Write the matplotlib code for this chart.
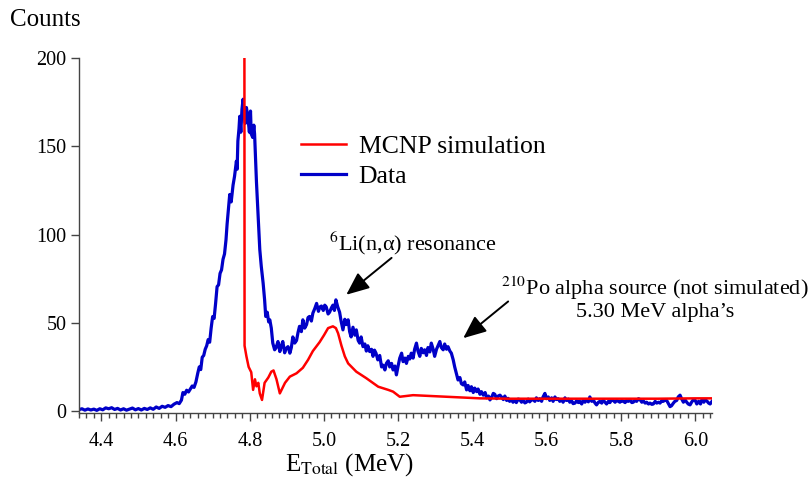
import matplotlib
matplotlib.use("Agg")
import matplotlib.pyplot as plt
from matplotlib.ticker import MultipleLocator

plt.rcParams['font.family'] = ['Liberation Serif', 'DejaVu Serif']
plt.rcParams['mathtext.fontset'] = 'stix'

# MCNP simulation (MeV, counts)
sim_e = [4.7855, 4.786, 4.791, 4.797, 4.804, 4.809, 4.814, 4.818, 4.823, 4.827,
         4.833, 4.840, 4.850, 4.858, 4.864, 4.872, 4.881, 4.895, 4.908, 4.926,
         4.943, 4.957, 4.970, 4.988, 5.000, 5.011, 5.024, 5.032, 5.038, 5.047,
         5.056, 5.065, 5.087, 5.114, 5.146, 5.173, 5.186, 5.204, 5.240, 5.330,
         5.420, 5.50, 5.60, 5.70, 5.80, 5.90, 6.00, 6.045]
sim_counts = [250, 37, 31, 25, 22, 12, 18, 14, 16, 10,
              6.3, 16, 19, 22.3, 23, 18, 10, 16, 19.5, 21.4,
              24.5, 29, 34, 39, 43, 47, 48, 47, 44, 37,
              31, 27, 22.3, 18.6, 13.8, 12, 11, 8.1, 9, 8.1,
              7.2, 7, 7, 7, 7, 7, 7.2, 7.2]

# measured spectrum (MeV, counts)
data_e = [4.340, 4.348, 4.356, 4.364, 4.372, 4.380, 4.388, 4.396, 4.404, 4.412,
          4.420, 4.428, 4.436, 4.444, 4.452, 4.460, 4.468, 4.476, 4.484, 4.492,
          4.500, 4.508, 4.516, 4.524, 4.532, 4.540, 4.548, 4.556, 4.564, 4.572,
          4.580, 4.588, 4.596, 4.604, 4.610, 4.616, 4.620, 4.625, 4.630, 4.635,
          4.640, 4.645, 4.650, 4.655, 4.660, 4.664, 4.668, 4.672, 4.676, 4.680,
          4.684, 4.688, 4.692, 4.696, 4.700, 4.704, 4.708, 4.712, 4.716, 4.720,
          4.724, 4.728, 4.732, 4.736, 4.739, 4.742, 4.746, 4.750, 4.755, 4.759,
          4.764, 4.766, 4.768, 4.771, 4.773, 4.776, 4.779, 4.782, 4.785, 4.788,
          4.791, 4.795, 4.799, 4.802, 4.804, 4.808, 4.811, 4.813, 4.816, 4.818,
          4.822, 4.827, 4.831, 4.836, 4.840, 4.843, 4.847, 4.851, 4.854, 4.858,
          4.862, 4.867, 4.871, 4.876, 4.881, 4.885, 4.889, 4.894, 4.898, 4.903,
          4.908, 4.912, 4.916, 4.921, 4.926, 4.930, 4.934, 4.939, 4.943, 4.948,
          4.953, 4.957, 4.961, 4.966, 4.970, 4.975, 4.980, 4.985, 4.989, 4.993,
          4.998, 5.002, 5.006, 5.011, 5.015, 5.020, 5.024, 5.028, 5.032, 5.037,
          5.042, 5.046, 5.051, 5.056, 5.060, 5.065, 5.069, 5.073, 5.078, 5.083,
          5.087, 5.092, 5.096, 5.100, 5.105, 5.110, 5.114, 5.118, 5.123, 5.128,
          5.132, 5.136, 5.140, 5.145, 5.150, 5.155, 5.159, 5.164, 5.168, 5.173,
          5.177, 5.182, 5.186, 5.191, 5.195, 5.200, 5.204, 5.209, 5.213, 5.218,
          5.222, 5.227, 5.231, 5.235, 5.240, 5.244, 5.249, 5.253, 5.258, 5.262,
          5.267, 5.271, 5.276, 5.280, 5.285, 5.289, 5.294, 5.298, 5.303, 5.307,
          5.312, 5.316, 5.321, 5.325, 5.330, 5.334, 5.339, 5.343, 5.348, 5.352,
          5.357, 5.361, 5.366, 5.370, 5.375, 5.379, 5.384, 5.388, 5.393, 5.397,
          5.402, 5.406, 5.411, 5.415, 5.420, 5.424, 5.429, 5.434, 5.438, 5.443,
          5.447, 5.452, 5.456, 5.460, 5.465, 5.469, 5.474, 5.478, 5.483, 5.487,
          5.492, 5.496, 5.500, 5.505, 5.509, 5.514, 5.518, 5.523, 5.527, 5.532,
          5.536, 5.541, 5.545, 5.550, 5.554, 5.559, 5.563, 5.568, 5.572, 5.577,
          5.581, 5.586, 5.590, 5.595, 5.599, 5.604, 5.608, 5.613, 5.617, 5.622,
          5.626, 5.631, 5.635, 5.640, 5.644, 5.649, 5.653, 5.658, 5.662, 5.667,
          5.671, 5.676, 5.680, 5.685, 5.689, 5.694, 5.698, 5.703, 5.707, 5.712,
          5.716, 5.721, 5.725, 5.730, 5.734, 5.739, 5.743, 5.748, 5.752, 5.757,
          5.761, 5.766, 5.770, 5.775, 5.779, 5.784, 5.788, 5.793, 5.797, 5.802,
          5.806, 5.811, 5.815, 5.820, 5.824, 5.829, 5.833, 5.838, 5.842, 5.847,
          5.851, 5.856, 5.860, 5.865, 5.869, 5.874, 5.878, 5.883, 5.887, 5.892,
          5.896, 5.901, 5.905, 5.910, 5.914, 5.919, 5.923, 5.928, 5.932, 5.936,
          5.941, 5.945, 5.950, 5.954, 5.959, 5.963, 5.968, 5.972, 5.977, 5.981,
          5.986, 5.990, 5.995, 6.000, 6.004, 6.009, 6.014, 6.018, 6.023, 6.027,
          6.032, 6.036, 6.040, 6.045]
data_counts = [0.8, 1.3, 0.5, 1.2, 0.6, 1.1, 0.4, 1.3, 0.7, 1.8,
               1.3, 1.9, 0.9, 1.5, 0.6, 1.3, 0.5, 1.1, 1.7, 0.7,
               1.4, 0.6, 1.5, 0.9, 1.8, 1.0, 2.3, 1.5, 2.7, 2.1,
               3.1, 2.5, 3.9, 4.8, 4.2, 6.2, 10.5, 9.5, 11.8, 10.8,
               12.5, 14.2, 13.4, 16.5, 21.5, 25.0, 23.5, 30.5, 31.5, 35.0,
               37.0, 40.5, 39.0, 47.0, 53.5, 52.5, 61.0, 70.5, 71.5, 78.0,
               80.0, 86.0, 89.0, 97.0, 106.0, 113.0, 122.7, 118.5, 128.0, 133.0,
               141.6, 137.0, 153.0, 160.0, 167.0, 158.0, 171.0, 176.7, 168.0, 163.0,
               172.0, 166.5, 158.0, 170.0, 157.0, 155.0, 162.0, 157.0, 140.0, 130.0,
               113.0, 91.5, 82.0, 72.5, 63.0, 53.6, 56.0, 50.5, 51.7, 47.0,
               38.5, 34.7, 36.0, 39.4, 33.7, 37.0, 39.4, 33.0, 35.5, 36.5,
               32.8, 36.0, 42.0, 38.5, 40.0, 44.5, 48.0, 45.0, 51.7, 47.0,
               49.0, 53.0, 53.6, 51.0, 55.5, 58.0, 61.0, 56.5, 59.0, 59.5,
               57.0, 60.0, 59.0, 55.0, 56.0, 58.5, 60.0, 57.0, 63.0, 59.0,
               56.0, 51.0, 46.0, 52.0, 49.0, 51.7, 45.0, 42.0, 47.5, 43.0,
               46.0, 40.0, 38.5, 42.0, 36.5, 38.0, 34.0, 37.0, 33.7, 35.0,
               31.0, 34.5, 32.8, 29.0, 31.5, 25.0, 26.0, 23.3, 27.0, 28.5,
               25.0, 27.0, 23.3, 25.5, 20.5, 26.0, 30.0, 32.8, 28.0, 30.0,
               27.0, 31.0, 29.5, 32.8, 30.0, 35.0, 38.5, 34.0, 31.0, 35.5,
               33.0, 34.7, 31.5, 36.0, 33.5, 38.5, 35.0, 31.0, 35.0, 37.0,
               39.4, 36.0, 34.7, 38.0, 35.0, 36.5, 34.0, 32.8, 29.0, 25.0,
               21.0, 17.6, 19.0, 15.5, 14.8, 16.5, 12.0, 14.5, 11.5, 13.8,
               10.5, 13.0, 11.0, 12.5, 9.5, 11.0, 9.0, 10.5, 7.5, 8.5,
               6.3, 8.0, 10.0, 9.5, 7.0, 8.5, 9.0, 8.0, 6.5, 8.5,
               6.0, 7.2, 5.5, 6.5, 5.0, 6.0, 4.8, 6.8, 6.5, 5.0,
               6.2, 4.6, 5.0, 6.8, 5.2, 6.5, 6.5, 5.5, 7.5, 6.0,
               7.0, 5.5, 8.0, 10.0, 7.0, 8.0, 6.0, 7.5, 5.5, 8.0,
               6.5, 7.0, 5.5, 6.5, 5.0, 7.5, 6.0, 6.8, 5.0, 5.8,
               4.2, 4.5, 5.8, 4.8, 5.5, 4.0, 6.0, 5.0, 6.5, 5.2,
               8.0, 5.5, 6.5, 4.5, 3.5, 5.0, 5.5, 4.5, 6.2, 5.0,
               4.0, 5.5, 4.8, 6.5, 6.0, 5.0, 6.0, 5.5, 5.0, 6.0,
               5.5, 4.8, 6.0, 5.5, 6.5, 4.8, 5.0, 6.2, 5.5, 7.0,
               6.5, 5.0, 5.8, 4.5, 5.0, 4.0, 4.5, 3.8, 4.0, 5.5,
               4.5, 5.0, 4.5, 6.0, 5.5, 6.5, 6.0, 4.0, 2.5, 3.0,
               4.5, 5.5, 6.0, 8.0, 9.0, 7.0, 5.0, 6.5, 5.0, 4.0,
               3.5, 5.0, 6.5, 6.0, 4.0, 5.5, 4.0, 6.5, 5.0, 6.5,
               5.5, 4.5, 4.0, 5.5]

x_ticks = [4.4, 4.6, 4.8, 5.0, 5.2, 5.4, 5.6, 5.8, 6.0]
y_ticks = [0, 50, 100, 150, 200]

fig = plt.figure(figsize=(8.1, 4.88), dpi=100)
ax = fig.add_axes([0.0975, 0.1537, 0.7815, 0.7273])

ax.plot(sim_e, sim_counts, color='#ff0000', lw=1.8, label='MCNP simulation', zorder=3)
ax.plot(data_e, data_counts, color='#0000c8', lw=2.3, label='Data', zorder=2)

ax.set_xlim(4.34, 6.045)
ax.set_ylim(-1.1, 200)
ax.set_xticks(x_ticks)
ax.set_xticklabels(['%.1f' % v for v in x_ticks])
ax.set_yticks(y_ticks)
ax.xaxis.set_minor_locator(MultipleLocator(0.02))
ax.tick_params(axis='both', which='major', labelsize=14.5, length=6, width=1, color='#444444')
ax.tick_params(axis='x', which='minor', length=3.5, width=1, color='#444444')
ax.tick_params(axis='x', pad=8)
ax.tick_params(axis='y', pad=3)
for s in ['top', 'right']:
    ax.spines[s].set_visible(False)
for s in ['left', 'bottom']:
    ax.spines[s].set_color('#444444')
    ax.spines[s].set_linewidth(1)

fig.text(0.012, 0.959, 'Counts', fontsize=18, va='center', ha='left')
fig.text(0.432, 0.047, r'E$_{\mathrm{Total}}$ (MeV)', fontsize=18, va='center', ha='center')

ax.legend(loc='upper left', bbox_to_anchor=(288 / 810, 1 - 122 / 488),
          bbox_transform=fig.transFigure, frameon=False, fontsize=18.5,
          handlelength=1.75, handletextpad=0.5, labelspacing=0.28, borderpad=0)

arrow = dict(arrowstyle='-|>,head_length=0.7,head_width=0.3', color='black',
             lw=1.4, mutation_scale=20, shrinkA=0, shrinkB=0)
ax.annotate('', xy=(5.060, 65.9), xytext=(5.182, 86.8), arrowprops=arrow)
ax.annotate('', xy=(5.375, 41.3), xytext=(5.496, 62.1), arrowprops=arrow)

ax.text(5.24, 95, r'$^{6}$Li(n,α) resonance', fontsize=16, ha='center', va='center')
fig.text(655 / 810, 1 - 288 / 488, r'$^{210}$Po alpha source (not simulated)',
         fontsize=16, ha='center', va='center')
fig.text(655 / 810, 1 - 313 / 488, '5.30 MeV alpha\u2019s',
         fontsize=16, ha='center', va='center')

fig.savefig('out.png', dpi=100)
